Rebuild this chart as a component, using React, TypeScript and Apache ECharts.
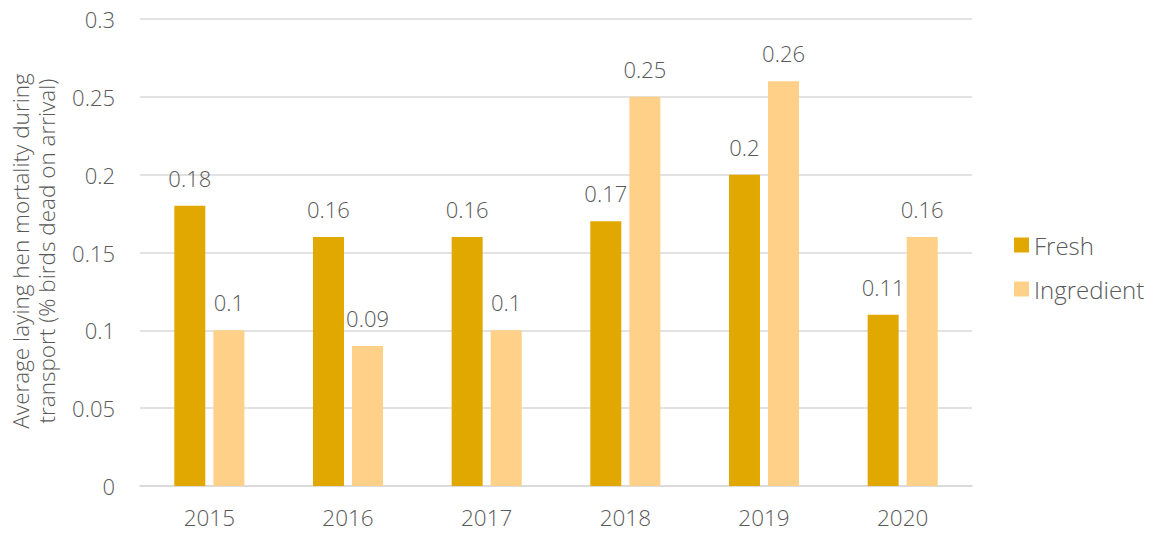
import React, { useEffect, useRef } from "react";
import * as echarts from "echarts";

const years = ["2015", "2016", "2017", "2018", "2019", "2020"];
const fresh = [0.18, 0.16, 0.16, 0.17, 0.2, 0.11];
const ingredient = [0.1, 0.09, 0.1, 0.25, 0.26, 0.16];
const yTitleLines = ["Average laying hen mortality during", "transport (% birds dead on arrival)"];

const FONT = "'Open Sans', Lato, sans-serif";
const TEXT = "#595959";

export default function App() {
  const ref = useRef<HTMLDivElement>(null);
  useEffect(() => {
    document.body.style.margin = "0";
    const chart = echarts.init(ref.current!, null, { renderer: "svg" });
    const label = {
      show: true,
      position: "top",
      distance: 17,
      color: TEXT,
      fontSize: 22,
      fontFamily: FONT,
      fontWeight: 300,
    };
    chart.setOption({
      animation: false,
      textStyle: { fontFamily: FONT },
      grid: { left: 140, right: 186, top: 19, bottom: 47 },
      legend: {
        orient: "vertical",
        left: 1009,
        top: 228,
        itemWidth: 15,
        itemHeight: 15,
        itemGap: 20,
        icon: "rect",
        textStyle: { color: TEXT, fontSize: 24, fontFamily: FONT, fontWeight: 300 },
        data: ["Fresh", "Ingredient"],
      },
      xAxis: {
        type: "category",
        data: years,
        axisLine: { lineStyle: { color: "#d9d9d9", width: 1.5 } },
        axisTick: { show: false },
        axisLabel: { color: TEXT, fontSize: 22.5, fontFamily: FONT, fontWeight: 300, margin: 20 },
      },
      yAxis: {
        type: "value",
        min: 0,
        max: 0.3,
        interval: 0.05,
        axisLabel: {
          color: TEXT,
          fontSize: 22,
          fontFamily: FONT,
          fontWeight: 300,
          margin: 25,
          formatter: (v: number) => String(Math.round(v * 100) / 100),
        },
        splitLine: { lineStyle: { color: "#d9d9d9", width: 1.5 } },
        axisLine: { show: false },
        axisTick: { show: false },
      },
      graphic: [
        {
          type: "text",
          x: 33,
          y: 251,
          rotation: Math.PI / 2,
          style: {
            text: yTitleLines.join("\n"),
            fill: TEXT,
            fontSize: 22.5,
            fontFamily: FONT,
            fontWeight: 300,
            lineHeight: 26,
            align: "center",
            verticalAlign: "middle",
          },
        },
      ],
      series: [
        {
          name: "Fresh",
          type: "bar",
          data: fresh,
          barWidth: 31,
          barGap: "26%",
          itemStyle: { color: "#E0A800" },
          label,
        },
        {
          name: "Ingredient",
          type: "bar",
          data: ingredient,
          barWidth: 31,
          itemStyle: { color: "#FFD088" },
          label,
        },
      ],
    });
    return () => chart.dispose();
  }, []);
  return <div ref={ref} style={{ width: 1158, height: 533 }} />;
}
